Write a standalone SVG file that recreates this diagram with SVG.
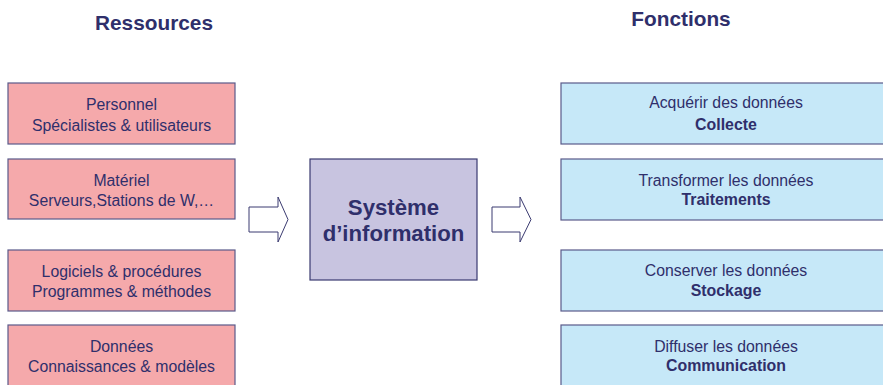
<svg xmlns="http://www.w3.org/2000/svg" width="883" height="385" viewBox="0 0 883 385" font-family="'Liberation Sans', Arimo, Arial, Helvetica, sans-serif">
<style>
text{font-family:'Liberation Sans',Arimo,Arial,Helvetica,sans-serif;fill:#2f2f6b;text-anchor:middle}
.t{font-size:20.8px;font-weight:bold}
.r{fill:#f5a9ab;stroke:#5a5a8a;stroke-width:1.2}
.f{fill:#c6e8f8;stroke:#5a5a8a;stroke-width:1.2}
.c{fill:#c8c4e0;stroke:#3a3a70;stroke-width:1.2}
.s{font-size:15.8px}
.b{font-size:15.9px;font-weight:bold}
.big{font-size:22.2px;font-weight:bold}
.a{fill:#fff;stroke:#3a3a70;stroke-width:1}
</style>
<rect width="883" height="385" fill="#fff"/>
<text class="t" x="154" y="30">Ressources</text>
<text class="t" x="681" y="26">Fonctions</text>
<g id="personnel"><rect class="r" x="8" y="83" width="227" height="61"/><text class="s" x="121.5" y="110">Personnel</text><text class="s" x="121.5" y="131">Spécialistes &amp; utilisateurs</text></g>
<g id="materiel"><rect class="r" x="8" y="159" width="227" height="60"/><text class="s" x="121.5" y="186">Matériel</text><text class="s" x="121.5" y="206">Serveurs,Stations de W,…</text></g>
<g id="logiciels"><rect class="r" x="8" y="250" width="227" height="61"/><text class="s" x="121.5" y="277">Logiciels &amp; procédures</text><text class="s" x="121.5" y="297">Programmes &amp; méthodes</text></g>
<g id="donnees"><rect class="r" x="8" y="325" width="227" height="70"/><text class="s" x="121.5" y="352">Données</text><text class="s" x="121.5" y="372">Connaissances &amp; modèles</text></g>
<g id="si"><rect class="c" x="310" y="159" width="167" height="121"/><text class="big" x="393.5" y="215">Système</text><text class="big" x="393.5" y="241">d’information</text></g>
<g id="collecte"><rect class="f" x="561" y="83" width="330" height="61"/><text class="s" x="726" y="108">Acquérir des données</text><text class="b" x="726" y="130">Collecte</text></g>
<g id="traitements"><rect class="f" x="561" y="159" width="330" height="61"/><text class="s" x="726" y="186">Transformer les données</text><text class="b" x="726" y="205">Traitements</text></g>
<g id="stockage"><rect class="f" x="561" y="250" width="330" height="61"/><text class="s" x="726" y="276">Conserver les données</text><text class="b" x="726" y="296">Stockage</text></g>
<g id="communication"><rect class="f" x="561" y="325" width="330" height="70"/><text class="s" x="726" y="352">Diffuser les données</text><text class="b" x="726" y="371">Communication</text></g>
<g id="connectors">
<path class="a" d="M249,207 H278 V197 L288,219.5 L278,242 V232 H249 Z"/>
<path class="a" d="M492,207 H520 V197 L531,219.5 L520,242 V232 H492 Z"/>
</g>
</svg>
